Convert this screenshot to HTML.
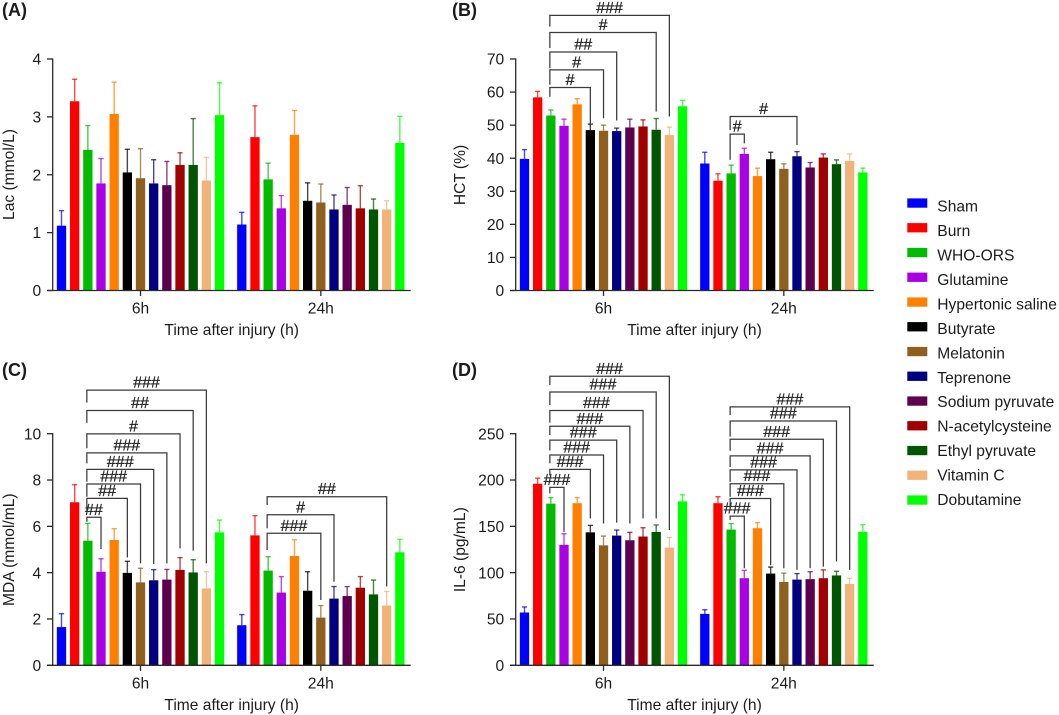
<!DOCTYPE html>
<html lang="en">
<head>
<meta charset="utf-8">
<title>Bar charts of Lac, HCT, MDA and IL-6 after injury</title>
<style>
  html, body { margin: 0; padding: 0; background: #ffffff; }
  #figure { display: block; width: 1059px; height: 715px; font-family: "Liberation Sans", Arial, sans-serif; fill: #1c1c1c; }
  .txt { font-size: 15.6px; }
  .panel-label { font-size: 18px; font-weight: bold; }
  .hash { font-size: 16px; text-anchor: middle; fill: #222; stroke: #222; stroke-width: 0.25; }
</style>
</head>
<body>
<svg id="figure" xmlns="http://www.w3.org/2000/svg" width="1059" height="715" viewBox="0 0 1059 715">
  <rect x="0" y="0" width="1059" height="715" fill="#ffffff"/>

  <text class="panel-label" x="2" y="16">(A)</text>
  <text class="panel-label" x="452" y="16">(B)</text>
  <text class="panel-label" x="2" y="376">(C)</text>
  <text class="panel-label" x="452" y="376">(D)</text>

  <text class="txt" text-anchor="middle" transform="translate(14 174.5) rotate(-90)">Lac (mmol/L)</text>
  <text class="txt" text-anchor="middle" transform="translate(465 175) rotate(-90)">HCT (%)</text>
  <text class="txt" text-anchor="middle" transform="translate(14 549.7) rotate(-90)">MDA (mmol/mL)</text>
  <text class="txt" text-anchor="middle" transform="translate(465 549.7) rotate(-90)">IL-6 (pg/mL)</text>

  <text class="txt" text-anchor="middle" x="231.7" y="335">Time after injury (h)</text>
  <text class="txt" text-anchor="middle" x="694.5" y="335">Time after injury (h)</text>
  <text class="txt" text-anchor="middle" x="231.7" y="710">Time after injury (h)</text>
  <text class="txt" text-anchor="middle" x="694.5" y="710">Time after injury (h)</text>

  <g id="panels"></g>

  <g>
    <rect x="907.3" y="198.4" width="20" height="9.3" fill="#0000ff"/>
    <text class="txt" x="937.3" y="211.7">Sham</text>
    <rect x="907.3" y="223.1" width="20" height="9.3" fill="#ff0000"/>
    <text class="txt" x="937.3" y="236.1">Burn</text>
    <rect x="907.3" y="247.9" width="20" height="9.3" fill="#00bb00"/>
    <text class="txt" x="937.3" y="260.6">WHO-ORS</text>
    <rect x="907.3" y="272.6" width="20" height="9.3" fill="#aa00e6"/>
    <text class="txt" x="937.3" y="285">Glutamine</text>
    <rect x="907.3" y="297.4" width="20" height="9.3" fill="#ff8000"/>
    <text class="txt" x="937.3" y="309.5">Hypertonic saline</text>
    <rect x="907.3" y="322.1" width="20" height="9.3" fill="#000000"/>
    <text class="txt" x="937.3" y="333.9">Butyrate</text>
    <rect x="907.3" y="346.9" width="20" height="9.3" fill="#8f5f1e"/>
    <text class="txt" x="937.3" y="358.3">Melatonin</text>
    <rect x="907.3" y="371.6" width="20" height="9.3" fill="#000080"/>
    <text class="txt" x="937.3" y="382.8">Teprenone</text>
    <rect x="907.3" y="396.4" width="20" height="9.3" fill="#5e0050"/>
    <text class="txt" x="937.3" y="407.2">Sodium pyruvate</text>
    <rect x="907.3" y="421.1" width="20" height="9.3" fill="#a00000"/>
    <text class="txt" x="937.3" y="431.7">N-acetylcysteine</text>
    <rect x="907.3" y="445.9" width="20" height="9.3" fill="#005500"/>
    <text class="txt" x="937.3" y="456.1">Ethyl pyruvate</text>
    <rect x="907.3" y="470.6" width="20" height="9.3" fill="#f0b47a"/>
    <text class="txt" x="937.3" y="480.5">Vitamin C</text>
    <rect x="907.3" y="495.4" width="20" height="9.3" fill="#00ff00"/>
    <text class="txt" x="937.3" y="505">Dobutamine</text>
  </g>
</svg>

<script>
// ---- shared categories ----
const timepoints = ['6h', '24h'];
const seriesNames = ['sham','burn','who-ors','glutamine','hypertonic-saline','butyrate','melatonin','teprenone','sodium-pyruvate','n-acetylcysteine','ethyl-pyruvate','vitamin-c','dobutamine'];
const seriesColors = ['#0000ff','#ff0000','#00bb00','#aa00e6','#ff8000','#000000','#8f5f1e','#000080','#5e0050','#a00000','#005500','#f0b47a','#00ff00'];

// ---- panel A: Lac ----
const lacTicks = [0, 1, 2, 3, 4];
const lac6hMeans = [1.12,3.27,2.43,1.85,3.05,2.04,1.94,1.85,1.82,2.17,2.17,1.90,3.03];
const lac6hUpper = [1.38,3.65,2.85,2.28,3.60,2.44,2.45,2.26,2.23,2.38,2.97,2.30,3.59];
const lac24hMeans = [1.14,2.65,1.92,1.42,2.69,1.55,1.52,1.40,1.48,1.42,1.40,1.40,2.55];
const lac24hUpper = [1.35,3.19,2.20,1.64,3.11,1.86,1.84,1.65,1.78,1.81,1.58,1.55,3.01];

// ---- panel B: HCT ----
const hctTicks = [0, 10, 20, 30, 40, 50, 60, 70];
const hct6hMeans = [39.8,58.4,52.9,49.8,56.3,48.5,48.3,48.2,49.3,49.6,48.6,47.0,55.7];
const hct6hUpper = [42.6,60.2,54.6,51.8,58.0,50.3,50.0,49.1,51.8,51.6,52.0,49.4,57.5];
const hct24hMeans = [38.4,33.2,35.4,41.3,34.6,39.7,36.8,40.6,37.2,40.2,38.2,39.2,35.7];
const hct24hUpper = [41.8,35.3,37.9,43.0,37.0,41.8,38.3,42.0,38.7,41.3,39.5,41.3,37.0];
// each bracket: time group, target series index, top level, left-leg end, right-leg end, label
const hctBrackets = [
  [0, 5, 61.4, 58.6, 49.5, '#'],
  [0, 6, 66.7, 62.2, 52.1, '#'],
  [0, 7, 72.1, 67.2, 51.4, '##'],
  [0, 10, 78.0, 73.3, 54.1, '#'],
  [0, 11, 83.2, 79.8, 52.6, '###'],
  [1, 3, 47.3, 39.5, 44.5, '#'],
  [1, 7, 52.6, 48.5, 44.0, '#']
];

// ---- panel C: MDA ----
const mdaTicks = [0, 2, 4, 6, 8, 10];
const mda6hMeans = [1.65,7.04,5.38,4.04,5.41,3.99,3.58,3.67,3.70,4.12,4.01,3.32,5.74];
const mda6hUpper = [2.23,7.80,6.13,4.60,5.90,4.49,4.19,4.13,4.14,4.65,4.56,4.04,6.27];
const mda24hMeans = [1.73,5.61,4.09,3.14,4.72,3.22,2.06,2.88,2.99,3.35,3.06,2.58,4.88];
const mda24hUpper = [2.19,6.46,4.69,3.83,5.42,4.04,2.58,3.40,3.40,3.83,3.68,3.19,5.44];
const mdaBrackets = [
  [0, 3, 6.39, 6.20, 5.02, '##'],
  [0, 5, 7.21, 6.63, 4.66, '##'],
  [0, 6, 7.83, 7.28, 4.40, '###'],
  [0, 7, 8.46, 7.93, 4.37, '###'],
  [0, 8, 9.17, 8.72, 4.40, '###'],
  [0, 9, 9.99, 9.37, 5.05, '#'],
  [0, 10, 11.00, 10.47, 4.95, '##'],
  [0, 11, 11.88, 11.34, 4.40, '###'],
  [1, 6, 5.70, 4.98, 2.82, '###'],
  [1, 7, 6.50, 5.91, 3.61, '#'],
  [1, 11, 7.28, 6.92, 3.40, '##']
];

// ---- panel D: IL-6 ----
const il6Ticks = [0, 50, 100, 150, 200, 250];
const il66hMeans = [57,196,174.5,130,175,143.5,129.5,140,135,139,144,127,177];
const il66hUpper = [63,202,181,142,181,151,139.5,146,143.5,148.5,151.5,138,184];
const il624hMeans = [55.5,175,146.5,94,148,99,90,92.5,93,94,97,87.8,144];
const il624hUpper = [60,182,153,102.5,154,106,99.5,99,101,103,101.5,93.9,151.8];
const il6Brackets = [
  [0, 3, 192, 185.6, 144, '###'],
  [0, 5, 211.5, 205, 158.6, '###'],
  [0, 6, 227, 218, 153, '###'],
  [0, 7, 243, 232, 154, '###'],
  [0, 8, 258, 248.6, 153, '###'],
  [0, 9, 275, 262, 158.6, '###'],
  [0, 10, 295, 281, 158.6, '###'],
  [0, 11, 312, 302.5, 146, '###'],
  [1, 3, 161, 157, 104.7, '###'],
  [1, 5, 180, 167.6, 108, '###'],
  [1, 6, 196, 182, 104.7, '###'],
  [1, 7, 211, 198, 103, '###'],
  [1, 8, 226, 214, 104.7, '###'],
  [1, 9, 244, 231.6, 106.5, '###'],
  [1, 10, 263.7, 246.8, 112, '###'],
  [1, 11, 279, 270, 103, '###']
];

// ---- drawing ----
const NS = 'http://www.w3.org/2000/svg';
const root = document.getElementById('panels');

function make(tag, attrs, parent) {
  const node = document.createElementNS(NS, tag);
  for (const k in attrs) node.setAttribute(k, attrs[k]);
  parent.appendChild(node);
  return node;
}

function drawPanel(id, axisX, baseY, topY, ticks, means, upper, brackets) {
  const panel = make('g', {}, root);
  
  

  const maxTick = ticks[ticks.length - 1];
  const yScale = v => baseY - (v / maxTick) * (baseY - topY);
  const step = 13.17;
  const barW = 9.3;
  const groupStart = [axisX + 8.8, axisX + 189.1];
  const xScale = (g, s) => groupStart[g] + s * step;
  const axisColor = '#2a2a2a';

  means.forEach((groupMeans, g) => {
    groupMeans.forEach((v, s) => {
      const cx = xScale(g, s);
      const top = yScale(upper[g][s]);
      const yv = yScale(v);

      const errLine = make('line', { x1: cx, x2: cx, y1: yv, y2: top, stroke: seriesColors[s], 'stroke-width': 1.4, 'stroke-opacity': 0.72 }, panel);
      
      

      const errCap = make('line', { x1: cx - 2.6, x2: cx + 2.6, y1: top, y2: top, stroke: seriesColors[s], 'stroke-width': 1.4, 'stroke-opacity': 0.72 }, panel);
      
      

      const bar = make('rect', { x: cx - barW / 2, y: yv, width: barW, height: baseY - yv, fill: seriesColors[s] }, panel);
      
      
    });
  });

  const yAxis = make('line', { x1: axisX, x2: axisX, y1: topY - 0.6, y2: baseY, stroke: axisColor, 'stroke-width': 1.3 }, panel);
  
  

  const xAxis = make('line', { x1: axisX - 5.7, x2: axisX + 358, y1: baseY, y2: baseY, stroke: axisColor, 'stroke-width': 1.3 }, panel);
  
  

  ticks.forEach(t => {
    const ty = yScale(t);
    const mark = make('line', { x1: axisX - 5.7, x2: axisX, y1: ty, y2: ty, stroke: axisColor, 'stroke-width': 1.3 }, panel);
    
    

    const label = make('text', { x: axisX - 11.5, y: ty + 5.6, 'text-anchor': 'end', class: 'txt' }, panel);
    
    
    label.textContent = String(t);
  });

  timepoints.forEach((name, g) => {
    const cx = xScale(g, 6);
    const mark = make('line', { x1: cx, x2: cx, y1: baseY, y2: baseY + 5.5, stroke: axisColor, 'stroke-width': 1.3 }, panel);
    
    

    const label = make('text', { x: cx, y: baseY + 23, 'text-anchor': 'middle', class: 'txt' }, panel);
    
    
    label.textContent = name;
  });

  brackets.forEach(([g, to, level, leftEnd, rightEnd, text]) => {
    const x1 = xScale(g, 2) - 1;
    const x2 = xScale(g, to);
    const ly = yScale(level);
    const path = make('path', {
      d: 'M' + x1 + ' ' + yScale(leftEnd) + 'V' + ly + 'H' + x2 + 'V' + yScale(rightEnd),
      fill: 'none', stroke: '#3a3a3a', 'stroke-width': 1.25
    }, panel);
    
    

    const label = make('text', { x: (x1 + x2) / 2, y: ly - 2.5, class: 'hash' }, panel);
    
    
    label.textContent = text;
  });
}

drawPanel('a', 52.7, 290.5, 59, lacTicks, [lac6hMeans, lac24hMeans], [lac6hUpper, lac24hUpper], []);
drawPanel('b', 515.7, 290.5, 59, hctTicks, [hct6hMeans, hct24hMeans], [hct6hUpper, hct24hUpper], hctBrackets);
drawPanel('c', 52.7, 665.3, 433.7, mdaTicks, [mda6hMeans, mda24hMeans], [mda6hUpper, mda24hUpper], mdaBrackets);
drawPanel('d', 515.7, 665.3, 433.7, il6Ticks, [il66hMeans, il624hMeans], [il66hUpper, il624hUpper], il6Brackets);
</script>
</body>
</html>
